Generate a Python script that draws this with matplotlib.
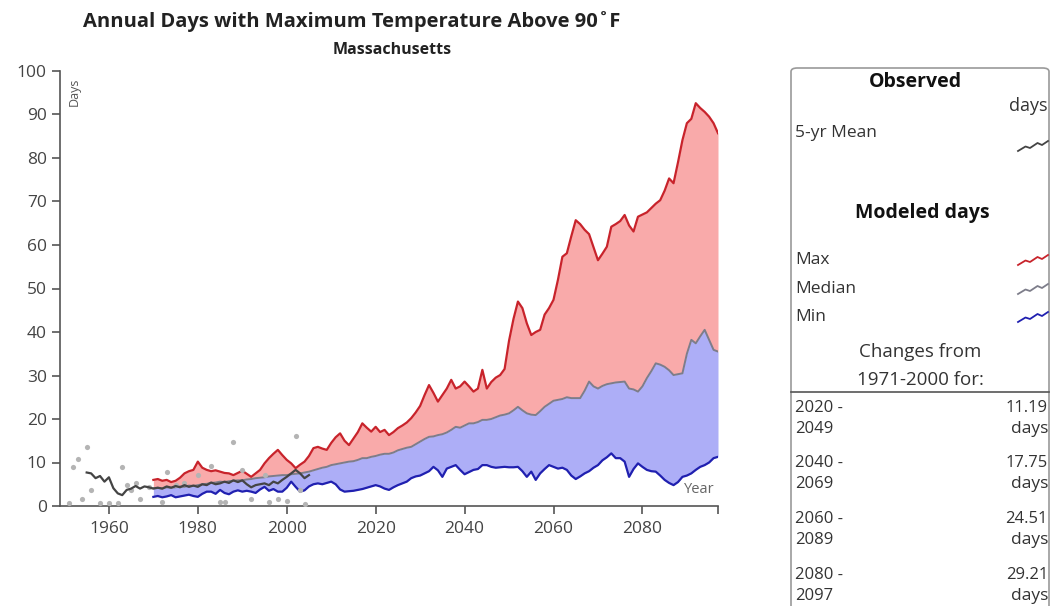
import numpy as np
import matplotlib
matplotlib.use("Agg")
import matplotlib.pyplot as plt
from matplotlib.patches import FancyBboxPatch
from matplotlib.lines import Line2D

plt.rcParams['font.family'] = ['Open Sans', 'DejaVu Sans']

# ---- data ----
model_start = 1970
model_max = [
    6.0, 6.2, 5.8, 6.0, 5.5, 5.8, 6.5, 7.5, 8.0, 8.3,
    10.2, 8.8, 8.3, 8.0, 8.2, 7.9, 7.6, 7.5, 7.1, 7.6,
    8.1, 7.4, 6.7, 7.5, 8.3, 9.8, 11.0, 12.0, 12.9, 11.7,
    10.6, 9.8, 8.7, 9.5, 10.2, 11.5, 13.3, 13.6, 13.2, 12.9,
    14.5, 15.8, 16.7, 15.0, 14.0, 15.5, 17.0, 19.0, 18.0, 17.1,
    18.2, 17.0, 17.5, 16.3, 17.0, 17.9, 18.5, 19.2, 20.2, 21.5,
    23.0, 25.5, 27.8, 26.0, 24.0, 25.5, 27.0, 29.0, 27.0, 27.5,
    28.6, 27.5, 26.3, 27.0, 31.3, 27.0, 28.5, 29.5, 30.1, 31.5,
    38.0, 43.0, 47.0, 45.5, 42.0, 39.3, 40.0, 40.5, 44.0, 45.5,
    47.4, 52.0, 57.3, 58.1, 62.0, 65.7, 64.8, 63.5, 62.5, 59.5,
    56.5, 58.0, 59.6, 64.2, 64.8, 65.5, 66.9, 64.5, 63.1, 66.5,
    67.0, 67.5, 68.5, 69.5, 70.3, 72.5, 75.3, 74.2, 79.0, 84.1,
    88.0, 89.0, 92.6, 91.5, 90.6, 89.5, 88.0, 85.7]
model_median = [
    4.1, 4.2, 4.0, 4.3, 4.2, 4.3, 4.5, 4.4, 4.7, 4.6,
    4.8, 5.0, 5.1, 5.3, 5.4, 5.6, 5.5, 5.7, 5.8, 5.9,
    5.9, 6.1, 6.2, 6.4, 6.5, 6.6, 6.8, 6.9, 7.0, 7.1,
    7.1, 7.3, 7.4, 7.5, 7.7, 7.9, 8.2, 8.5, 8.8, 9.0,
    9.4, 9.6, 9.8, 10.0, 10.2, 10.3, 10.6, 11.0, 11.0, 11.3,
    11.5, 11.8, 12.0, 12.0, 12.3, 12.8, 13.1, 13.4, 13.6, 14.2,
    14.8, 15.4, 15.9, 16.0, 16.3, 16.5, 16.9, 17.5, 18.2, 18.0,
    18.5, 19.0, 19.0, 19.3, 19.8, 19.8, 20.0, 20.4, 20.8, 21.0,
    21.3, 22.0, 22.8, 22.0, 21.3, 21.0, 20.9, 21.8, 22.8, 23.5,
    24.2, 24.4, 24.6, 25.0, 24.8, 24.8, 24.8, 26.5, 28.6, 27.5,
    27.0, 27.6, 28.0, 28.2, 28.4, 28.5, 28.6, 27.0, 26.8, 26.3,
    27.5, 29.4, 31.0, 32.8, 32.5, 32.0, 31.2, 30.1, 30.3, 30.5,
    35.0, 38.2, 37.4, 39.0, 40.5, 38.2, 35.9, 35.5]
model_min = [
    2.1, 2.3, 2.0, 2.2, 2.5, 2.0, 2.2, 2.4, 2.6, 2.3,
    2.1, 2.8, 3.3, 3.3, 2.8, 3.7, 3.0, 2.7, 3.3, 3.6,
    3.3, 3.5, 3.3, 3.0, 3.8, 4.4, 3.5, 3.9, 3.3, 3.3,
    4.2, 5.6, 4.4, 3.3, 3.6, 4.5, 5.0, 5.2, 5.0, 5.3,
    5.6, 5.0, 3.8, 3.3, 3.4, 3.5, 3.7, 3.9, 4.2, 4.5,
    4.8, 4.5, 4.0, 3.7, 4.3, 4.8, 5.2, 5.6, 6.4, 6.8,
    7.0, 7.5, 8.0, 9.0, 8.2, 6.7, 8.6, 9.0, 9.4, 8.3,
    7.3, 7.8, 8.3, 8.5, 9.4, 9.4, 9.0, 8.8, 8.9, 9.0,
    8.9, 8.9, 9.0, 8.0, 6.7, 7.9, 6.0, 7.5, 8.5, 9.4,
    9.0, 8.6, 8.8, 8.3, 7.0, 6.2, 6.8, 7.5, 8.0, 8.8,
    9.4, 10.5, 11.2, 12.1, 11.0, 11.0, 10.2, 6.7, 8.5, 9.8,
    9.0, 8.3, 8.0, 7.9, 7.0, 6.0, 5.3, 4.8, 5.5, 6.7,
    7.0, 7.5, 8.3, 9.0, 9.4, 10.0, 11.0, 11.3]

obs_years = [1951, 1952, 1953, 1954, 1955, 1956, 1958, 1960, 1962, 1963,
             1964, 1965, 1966, 1967, 1969, 1972, 1973, 1975, 1977, 1980,
             1983, 1985, 1986, 1988, 1990, 1992, 1995, 1996, 1998, 2000,
             2002, 2003, 2004]
obs_days = [0.6, 9.0, 10.7, 1.5, 13.5, 3.7, 0.8, 0.8, 0.8, 8.9,
            4.8, 3.7, 5.4, 1.5, 4.3, 1.0, 7.9, 4.8, 5.2, 7.1,
            9.2, 1.0, 1.0, 14.6, 8.3, 1.5, 7.1, 1.0, 1.5, 1.1,
            16.0, 3.7, 0.5]

mean_start = 1955
obs_mean5 = [
    7.7, 7.5, 6.4, 6.9, 5.6, 6.6, 4.1, 2.9, 2.5, 3.7,
    4.0, 4.6, 4.0, 4.5, 4.3, 4.0, 4.2, 4.0, 4.5, 4.2,
    4.6, 4.3, 4.8, 4.4, 4.7, 4.4, 5.0, 4.8, 5.4, 5.0,
    5.2, 5.6, 5.3, 5.9, 5.5, 5.9, 5.0, 4.3, 4.8, 5.0,
    5.2, 4.8, 5.6, 5.2, 6.0, 6.7, 7.5, 8.3, 7.5, 6.4, 7.1]

periods = [("2020 -", "2049"), ("2040 -", "2069"), ("2060 -", "2089"), ("2080 -", "2097")]
changes = [11.19, 17.75, 24.51, 29.21]

W, H = 1053, 606
fig = plt.figure(figsize=(W / 100, H / 100), dpi=100)

def fx(px):
    return px / W

def fy(py):
    return 1 - py / H

ax = fig.add_axes([fx(60), fy(506), fx(718) - fx(60), fy(71) - fy(506)])

years = np.arange(model_start, model_start + len(model_max))
mean_years = np.arange(mean_start, mean_start + len(obs_mean5))

red_line = '#c8232b'
red_fill = '#f9aaaa'
blue_line = '#2020b0'
blue_fill = '#adaef7'

ax.fill_between(years, model_median, model_max, color=red_fill, lw=0, zorder=1)
ax.fill_between(years, model_min, model_median, color=blue_fill, lw=0, zorder=1)
ax.plot(years, model_max, color=red_line, lw=1.6, zorder=3)
ax.plot(years, model_median, color='#7d7d8a', lw=1.4, zorder=3)
ax.plot(years, model_min, color=blue_line, lw=1.6, zorder=3)
ax.scatter(obs_years, obs_days, s=14, color='#b4b4b4', lw=0, zorder=4)
ax.plot(mean_years, obs_mean5, color='#444444', lw=1.6, zorder=5)

ax.set_xlim(1949, 2097)
ax.set_ylim(0, 100)
ax.set_xticks(range(1960, 2081, 20))
ax.set_xticks([2097], minor=True)
ax.set_yticks(range(0, 101, 10))
for s in ['top', 'right']:
    ax.spines[s].set_visible(False)
for s in ['left', 'bottom']:
    ax.spines[s].set_color('#555555')
    ax.spines[s].set_linewidth(1.2)
ax.tick_params(axis='both', which='both', colors='#555555', length=6, width=1.2,
               labelsize=12.5, labelcolor='#444444')
ax.tick_params(axis='x', pad=5)

ax.text(0.012, 0.985, 'Days', transform=ax.transAxes, rotation=90, ha='left', va='top',
        fontsize=9, color='#555555')
ax.text(0.995, 0.02, 'Year', transform=ax.transAxes, ha='right', va='bottom',
        fontsize=10.5, color='#666666')

fig.text(fx(352), fy(22), 'Annual Days with Maximum Temperature Above 90\u02daF',
         ha='center', va='center', fontsize=14.5, fontweight='bold', color='#222222')
fig.text(fx(392), fy(50), 'Massachusetts', ha='center', va='center',
         fontsize=11.5, fontweight='bold', color='#222222')

# ---- legend panel ----
box = FancyBboxPatch((fx(791), fy(640)), fx(1049) - fx(791), fy(68) - fy(640),
                     boxstyle='round,pad=0,rounding_size=0.006', transform=fig.transFigure,
                     facecolor='white', edgecolor='#9a9a9a', lw=1.2)
fig.patches.append(box)

tc = '#333333'
fig.text(fx(915), fy(82), 'Observed', ha='center', va='center', fontsize=14,
         fontweight='bold', color='#111111')
fig.text(fx(1048), fy(106), 'days', ha='right', va='center', fontsize=13, color=tc)
fig.text(fx(795), fy(133), '5-yr Mean', ha='left', va='center', fontsize=12.5, color=tc)
fig.text(fx(922), fy(213), 'Modeled days', ha='center', va='center', fontsize=14,
         fontweight='bold', color='#111111')

def glyph(py, color):
    gx = np.array([0, 0.25, 0.4, 0.65, 0.8, 1.0])
    gy = np.array([0, 0.45, 0.3, 0.8, 0.6, 1.0])
    fig.add_artist(Line2D(fx(1018 + gx * 30), fy(py + 5 - gy * 10), color=color, lw=1.3,
                          transform=fig.transFigure))

glyph(146, '#444444')
legend_rows = [('Max', 260, red_line), ('Median', 289, '#7d7d8a'), ('Min', 317, blue_line)]
for label, py, col in legend_rows:
    fig.text(fx(795), fy(py), label, ha='left', va='center', fontsize=12.5, color=tc)
    glyph(py, col)

fig.text(fx(920), fy(352), 'Changes from', ha='center', va='center', fontsize=13.5, color=tc)
fig.text(fx(920), fy(380), '1971-2000 for:', ha='center', va='center', fontsize=13.5, color=tc)
fig.add_artist(Line2D([fx(791), fx(1049)], [fy(392), fy(392)], color='#555555', lw=1.2,
                      transform=fig.transFigure))

row_y = [408, 463, 519, 575]
for (p1, p2), val, py in zip(periods, changes, row_y):
    fig.text(fx(795), fy(py), p1, ha='left', va='center', fontsize=12, color=tc)
    fig.text(fx(795), fy(py + 21), p2, ha='left', va='center', fontsize=12, color=tc)
    fig.text(fx(1048), fy(py), f'{val:.2f}', ha='right', va='center', fontsize=12, color=tc)
    fig.text(fx(1048), fy(py + 21), 'days', ha='right', va='center', fontsize=12.5, color=tc)

fig.savefig('out.png', dpi=100)
